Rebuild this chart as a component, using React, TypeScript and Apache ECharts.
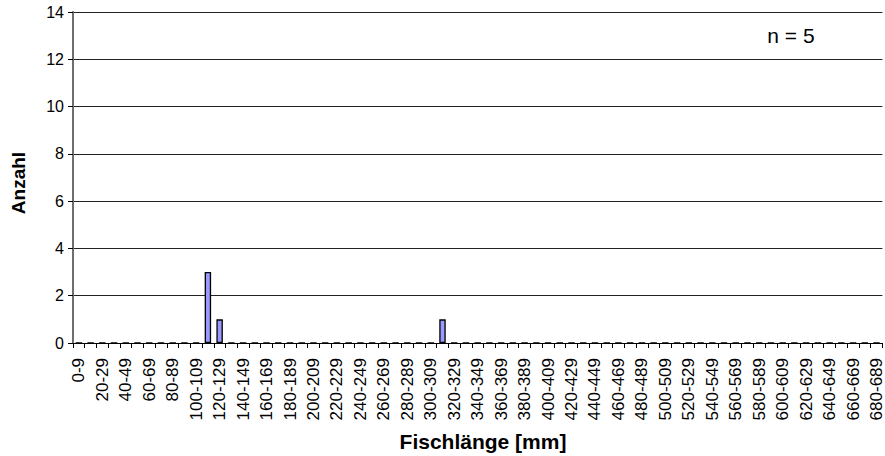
import React, { useEffect, useRef } from "react";
import * as echarts from "echarts";

// Length classes (mm), lower bounds of 10 mm bins: 0-9 ... 680-689
const binStarts: number[] = [
  0, 10, 20, 30, 40, 50, 60, 70, 80, 90,
  100, 110, 120, 130, 140, 150, 160, 170, 180, 190,
  200, 210, 220, 230, 240, 250, 260, 270, 280, 290,
  300, 310, 320, 330, 340, 350, 360, 370, 380, 390,
  400, 410, 420, 430, 440, 450, 460, 470, 480, 490,
  500, 510, 520, 530, 540, 550, 560, 570, 580, 590,
  600, 610, 620, 630, 640, 650, 660, 670, 680,
];
const categories: string[] = binStarts.map((s) => `${s}-${s + 9}`);

const counts: number[] = [
  0, 0, 0, 0, 0, 0, 0, 0, 0, 0,
  0, 3, 1, 0, 0, 0, 0, 0, 0, 0,
  0, 0, 0, 0, 0, 0, 0, 0, 0, 0,
  0, 1, 0, 0, 0, 0, 0, 0, 0, 0,
  0, 0, 0, 0, 0, 0, 0, 0, 0, 0,
  0, 0, 0, 0, 0, 0, 0, 0, 0, 0,
  0, 0, 0, 0, 0, 0, 0, 0, 0,
];

const yTitle = "Anzahl";
const xTitle = "Fischlänge [mm]";
const nLabel = "n = 5";

const FONT = "'Liberation Sans', Arial, sans-serif";

export default function App() {
  const ref = useRef<HTMLDivElement>(null);
  useEffect(() => {
    if (!ref.current) return;
    const chart = echarts.init(ref.current, null, { renderer: "svg" });
    chart.setOption({
      animation: false,
      backgroundColor: "#ffffff",
      textStyle: { fontFamily: FONT },
      grid: { left: 73, right: 1, top: 12, bottom: 113, containLabel: false },
      xAxis: {
        type: "category",
        data: categories,
        boundaryGap: true,
        axisLine: { show: true, lineStyle: { color: "#000000", width: 1 } },
        axisTick: { show: true, interval: 0, alignWithLabel: false, length: 5, lineStyle: { color: "#000000" } },
        axisLabel: {
          interval: 1,
          rotate: 90,
          margin: 15,
          fontSize: 17,
          color: "#000000",
          fontFamily: FONT,
        },
        splitLine: { show: false },
      },
      yAxis: {
        type: "value",
        min: 0,
        max: 14,
        interval: 2,
        axisLine: { show: true, lineStyle: { color: "#6e6e6e", width: 2 } },
        axisTick: { show: true, length: 5, lineStyle: { color: "#000000" } },
        axisLabel: { fontSize: 16, color: "#000000", margin: 9, fontFamily: FONT },
        splitLine: { show: true, lineStyle: { color: "#222222", width: 1 } },
      },
      series: [
        {
          type: "bar",
          data: counts,
          barWidth: "55%",
          itemStyle: { color: "#9999ff", borderColor: "#000000", borderWidth: 1.3 },
        },
      ],
      graphic: [
        {
          type: "text",
          x: 18,
          y: 183,
          rotation: Math.PI / 2,
          style: {
            text: yTitle,
            fontSize: 19,
            fontWeight: "bold",
            fontFamily: FONT,
            fill: "#000000",
            textAlign: "center",
            textVerticalAlign: "middle",
          },
        },
        {
          type: "text",
          x: 483,
          y: 441,
          style: {
            text: xTitle,
            fontSize: 21,
            fontWeight: "bold",
            fontFamily: FONT,
            fill: "#000000",
            textAlign: "center",
            textVerticalAlign: "middle",
          },
        },
        {
          type: "text",
          x: 791,
          y: 35,
          style: {
            text: nLabel,
            fontSize: 21,
            fontFamily: FONT,
            fill: "#000000",
            textAlign: "center",
            textVerticalAlign: "middle",
          },
        },
      ],
    });
    return () => chart.dispose();
  }, []);
  return <div ref={ref} style={{ width: 885, height: 456, position: "absolute", left: 0, top: 0 }} />;
}
